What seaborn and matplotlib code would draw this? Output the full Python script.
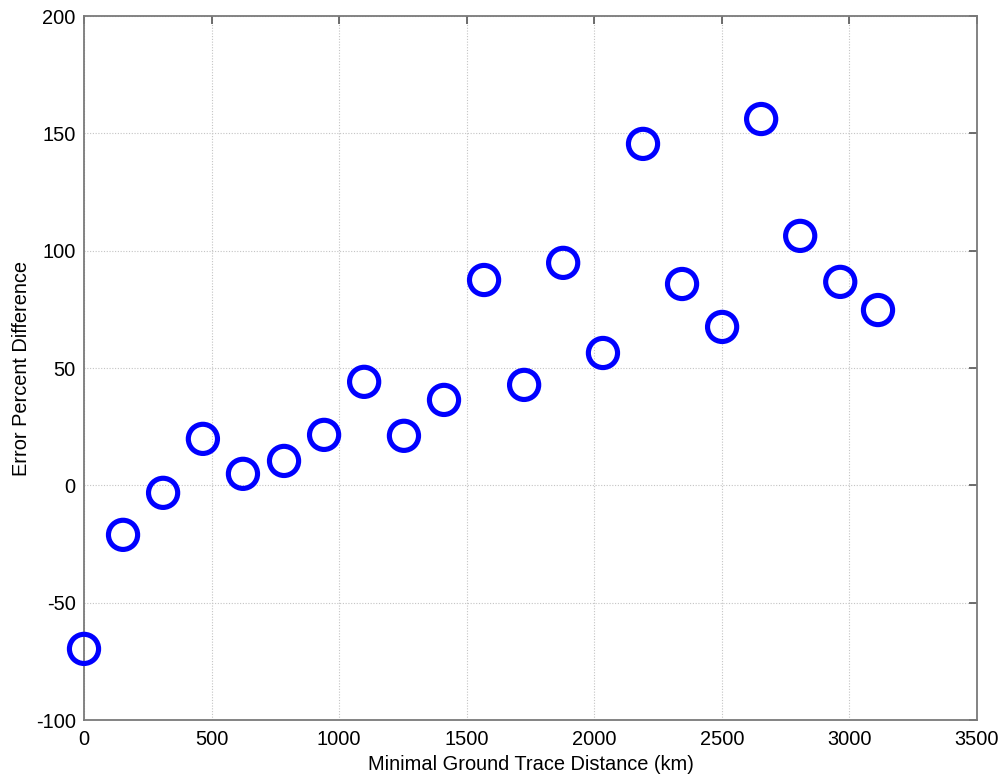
import matplotlib
matplotlib.use("Agg")
import matplotlib.pyplot as plt
import seaborn as sns
import pandas as pd

# Minimal ground trace distance (km) and error percent difference
distance_km = [0, 153, 310, 466, 623, 784, 941, 1098, 1254, 1411, 1568,
               1725, 1878, 2034, 2191, 2344, 2501, 2654, 2807, 2964, 3112]
error_pct = [-69.7, -21.1, -3.2, 19.8, 4.9, 10.4, 21.5, 44.1, 21.1, 36.4, 87.5,
             42.8, 94.8, 56.4, 145.5, 85.8, 67.5, 156.1, 106.3, 86.7, 74.7]

x_ticks = [0, 500, 1000, 1500, 2000, 2500, 3000, 3500]
y_ticks = [-100, -50, 0, 50, 100, 150, 200]

df = pd.DataFrame({"distance": distance_km, "error": error_pct})

sns.set_theme(style="white")
plt.rcParams["font.family"] = ["Liberation Sans", "DejaVu Sans"]
plt.rcParams["text.color"] = "black"
plt.rcParams["axes.labelcolor"] = "black"

fig = plt.figure(figsize=(10.01, 7.76), dpi=100)
ax = fig.add_axes([84 / 1001, 1 - 720 / 776, (977 - 84) / 1001, (720 - 16) / 776])

sns.scatterplot(data=df, x="distance", y="error", ax=ax,
                marker="o", s=21.0 ** 2, facecolor="none",
                edgecolor="#0000ff", linewidth=3.7, clip_on=False, zorder=3)

ax.set_xlim(0, 3500)
ax.set_ylim(-100, 200)
ax.set_xticks(x_ticks)
ax.set_yticks(y_ticks)
ax.set_xticklabels([str(t) for t in x_ticks])
ax.set_yticklabels([str(t) for t in y_ticks])

ax.grid(True, color="#c4c4c4", linestyle=(0, (1, 1.5)), linewidth=0.8)
ax.set_axisbelow(True)

for sp in ax.spines.values():
    sp.set_color("#7a7a7a")
    sp.set_linewidth(1.3)

ax.tick_params(axis="both", which="both", direction="in", length=6,
               width=1.2, color="#555555", labelsize=14.4, top=True, right=True,
               pad=6, labelcolor="black")
ax.tick_params(axis="x", pad=7.5)

ax.set_xlabel("Minimal Ground Trace Distance (km)", fontsize=14.4,
              labelpad=4, color="black")
ax.set_ylabel("Error Percent Difference", fontsize=14.4,
              labelpad=3, color="black")

fig.savefig("out.png", dpi=100, facecolor="white")
